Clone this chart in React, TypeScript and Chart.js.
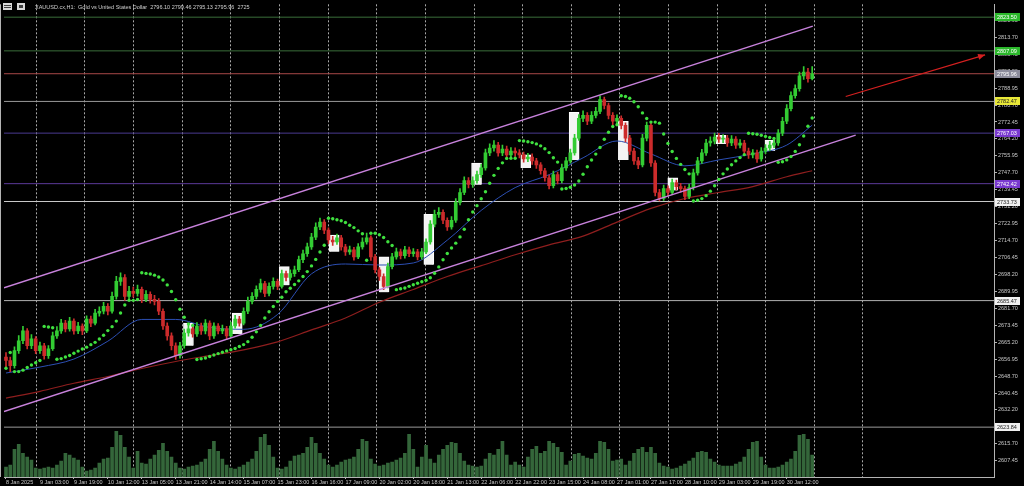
import React, { useEffect, useRef } from "react";
import { Chart, registerables } from "chart.js";

Chart.register(...registerables);

// ---------- data (H1 chart, one candle here = 2 hours) ----------
const HOURS_PER_CANDLE = 2;
const X_MIN = -0.94;
const X_MAX = 465.7;
const Y_MIN = 2599.56;
const Y_MAX = 2829.77;

const firstOpen = 2658.0;
const closes = [
  2656.3, 2653.8, 2661.1, 2665.9, 2670.7, 2663.5, 2666.8, 2661.1, 2663.5, 2658.7,
  2662.0, 2668.3, 2670.7, 2674.5, 2671.7, 2675.5, 2670.7, 2673.1, 2670.7, 2676.5,
  2674.5, 2679.4, 2680.3, 2682.7, 2680.3, 2687.5, 2694.8, 2696.7, 2687.5, 2690.0,
  2689.0, 2690.9, 2686.1, 2688.5, 2686.1, 2685.1, 2680.3, 2673.1, 2668.3, 2663.5,
  2658.7, 2663.5, 2669.7, 2671.7, 2669.3, 2673.1, 2670.7, 2674.5, 2668.3, 2673.1,
  2670.7, 2671.7, 2668.3, 2673.1, 2676.5, 2674.5, 2680.3, 2685.1, 2687.5, 2690.9,
  2693.8, 2689.0, 2692.4, 2694.8, 2692.4, 2698.6, 2696.7, 2698.6, 2700.5, 2705.4,
  2708.3, 2711.6, 2716.4, 2721.3, 2723.7, 2719.8, 2715.0, 2714.0, 2716.0, 2711.6,
  2709.2, 2710.2, 2706.8, 2711.6, 2714.0, 2716.0, 2706.8, 2700.5, 2697.2, 2692.4,
  2702.0, 2706.8, 2709.2, 2707.3, 2710.2, 2708.3, 2709.2, 2706.8, 2709.2, 2714.0,
  2722.7, 2727.5, 2728.5, 2724.6, 2721.3, 2724.6, 2733.3, 2738.1, 2743.9, 2742.0,
  2743.9, 2746.8, 2750.1, 2757.4, 2759.8, 2761.2, 2757.4, 2759.3, 2756.4, 2758.3,
  2757.4, 2756.4, 2754.5, 2755.4, 2753.5, 2751.6, 2748.7, 2745.3, 2741.5, 2746.8,
  2743.9, 2750.1, 2753.5, 2757.4, 2764.6, 2774.2, 2775.7, 2772.8, 2775.7, 2777.6,
  2783.4, 2780.5, 2775.7, 2772.8, 2774.2, 2770.8, 2764.6, 2758.3, 2753.5, 2751.6,
  2764.6, 2770.8, 2752.5, 2738.1, 2735.2, 2740.0, 2738.1, 2742.9, 2741.0, 2740.0,
  2736.2, 2740.5, 2747.7, 2753.5, 2757.4, 2762.2, 2763.1, 2765.1, 2764.1, 2764.6,
  2762.2, 2764.1, 2761.2, 2762.2, 2758.3, 2756.4, 2757.4, 2754.5, 2758.3, 2759.8,
  2761.2, 2762.2, 2767.0, 2772.8, 2779.0, 2785.3, 2788.7, 2794.9, 2796.8, 2793.5,
  2795.96,
];
const highs = [
  2660.2, 2658.0, 2663.0, 2668.4, 2672.9, 2671.8, 2668.9, 2667.9, 2665.3, 2664.6,
  2663.6, 2670.1, 2672.8, 2676.4, 2675.8, 2677.3, 2676.6, 2674.9, 2674.2, 2678.1,
  2677.9, 2681.2, 2682.4, 2684.6, 2684.0, 2689.6, 2697.3, 2699.0, 2698.1, 2692.4,
  2692.1, 2693.0, 2692.0, 2690.3, 2689.8, 2688.0, 2686.4, 2681.5, 2674.6, 2669.8,
  2664.9, 2665.2, 2671.6, 2673.4, 2673.0, 2674.8, 2674.5, 2676.2, 2675.6, 2674.7,
  2674.3, 2673.5, 2672.9, 2675.0, 2678.3, 2677.8, 2682.0, 2687.2, 2689.4, 2692.7,
  2695.9, 2694.9, 2694.1, 2696.5, 2696.0, 2700.3, 2699.9, 2700.4, 2702.3, 2707.2,
  2710.1, 2713.5, 2718.2, 2723.4, 2725.6, 2724.9, 2720.9, 2716.8, 2717.9, 2717.2,
  2712.9, 2712.0, 2711.4, 2713.2, 2716.0, 2718.3, 2717.0, 2708.0, 2701.6, 2698.5,
  2703.8, 2708.5, 2711.0, 2710.6, 2711.9, 2711.5, 2710.8, 2710.4, 2710.9, 2715.6,
  2724.5, 2729.6, 2730.8, 2729.7, 2725.8, 2726.4, 2735.1, 2740.0, 2745.8, 2745.4,
  2745.7, 2748.6, 2752.0, 2759.3, 2761.8, 2763.4, 2762.6, 2761.2, 2760.7, 2760.0,
  2759.9, 2759.0, 2757.8, 2757.2, 2756.9, 2754.8, 2752.7, 2749.9, 2746.6, 2748.5,
  2748.0, 2751.9, 2755.3, 2759.2, 2766.4, 2776.1, 2777.9, 2777.0, 2777.5, 2779.6,
  2785.2, 2784.6, 2781.7, 2777.0, 2776.0, 2775.5, 2772.0, 2765.9, 2759.6, 2755.3,
  2766.5, 2772.4, 2771.9, 2753.6, 2739.6, 2741.7, 2741.4, 2744.6, 2744.2, 2742.6,
  2741.2, 2742.2, 2749.5, 2755.3, 2759.1, 2764.0, 2765.2, 2767.0, 2766.9, 2766.3,
  2766.0, 2765.8, 2765.4, 2763.9, 2763.5, 2759.8, 2759.0, 2758.8, 2760.0, 2761.5,
  2763.0, 2764.0, 2768.8, 2774.7, 2780.9, 2787.2, 2790.6, 2796.8, 2799.4, 2798.6,
  2799.46,
];
const lows = [
  2652.5, 2650.9, 2652.6, 2659.8, 2664.5, 2661.9, 2662.0, 2659.6, 2659.8, 2656.9,
  2657.3, 2661.2, 2667.0, 2669.5, 2670.2, 2670.6, 2669.1, 2669.4, 2668.9, 2669.8,
  2672.8, 2673.6, 2677.9, 2679.0, 2678.5, 2679.4, 2686.2, 2692.9, 2685.6, 2686.0,
  2687.2, 2687.6, 2684.5, 2684.9, 2684.2, 2683.4, 2678.6, 2671.4, 2666.2, 2661.4,
  2656.8, 2657.4, 2662.3, 2668.1, 2667.6, 2668.0, 2669.0, 2669.3, 2666.4, 2667.0,
  2669.2, 2669.4, 2666.5, 2667.4, 2672.0, 2673.0, 2673.6, 2679.1, 2683.8, 2686.3,
  2689.6, 2687.4, 2687.8, 2691.0, 2690.8, 2691.5, 2695.0, 2695.4, 2697.2, 2699.6,
  2704.0, 2707.0, 2710.4, 2715.2, 2720.0, 2718.1, 2713.2, 2712.4, 2712.8, 2710.0,
  2707.5, 2707.9, 2705.1, 2705.9, 2710.5, 2712.9, 2705.0, 2698.9, 2695.3, 2690.8,
  2691.6, 2700.9, 2705.6, 2705.8, 2706.1, 2706.9, 2707.0, 2705.3, 2705.7, 2708.3,
  2713.0, 2721.4, 2726.0, 2722.9, 2719.6, 2720.2, 2723.5, 2732.1, 2737.0, 2740.3,
  2740.6, 2742.7, 2745.5, 2749.0, 2756.1, 2758.3, 2755.8, 2756.0, 2754.8, 2755.1,
  2755.7, 2754.9, 2752.9, 2753.1, 2751.8, 2749.9, 2747.0, 2743.6, 2739.8, 2740.4,
  2742.3, 2742.8, 2748.9, 2752.4, 2756.3, 2763.5, 2772.6, 2771.2, 2771.6, 2774.4,
  2776.5, 2778.8, 2774.0, 2771.1, 2771.4, 2769.1, 2762.8, 2756.5, 2751.8, 2749.7,
  2750.6, 2763.2, 2750.8, 2736.4, 2734.0, 2734.2, 2736.5, 2737.0, 2739.4, 2738.3,
  2734.6, 2735.1, 2739.4, 2746.6, 2752.3, 2756.2, 2760.7, 2761.8, 2762.5, 2762.4,
  2760.6, 2760.9, 2759.6, 2759.8, 2756.6, 2754.7, 2754.9, 2752.8, 2753.4, 2757.0,
  2758.5, 2759.9, 2761.1, 2765.8, 2771.6, 2777.9, 2784.0, 2787.5, 2793.2, 2791.8,
  2792.9,
];
const volumes = [
  5000, 6000, 14000, 16500, 12000, 10000, 8500, 4500, 4000, 4500,
  5000, 4500, 6000, 8000, 12000, 11000, 9500, 8500, 5000, 3000,
  3500, 4500, 7000, 9000, 9500, 15000, 23000, 21000, 15000, 10000,
  4500, 13000, 7000, 6500, 9000, 11000, 13500, 17000, 13000, 10000,
  7000, 4500, 4000, 5000, 5500, 6000, 7500, 9000, 14000, 18000,
  13000, 9000, 6000, 4500, 4000, 5000, 6000, 7500, 9000, 13000,
  20000, 21500, 16000, 10000, 4500, 4000, 5000, 8000, 10500, 11000,
  12000, 15000, 20000, 17000, 12000, 9000, 6000, 5000, 6000, 7500,
  8500, 9000, 10000, 14000, 19000, 18000, 9000, 6500, 5500, 6000,
  7000, 7500, 8500, 9500, 12000, 21500, 14000, 5000, 10000, 16000,
  9000, 7000, 11000, 14000, 16000, 17500, 17000, 12000, 8000, 6000,
  5500, 5000, 5500, 9000, 12000, 11000, 14000, 18000, 11000, 6000,
  7500, 6000, 5000, 10000, 14000, 15500, 12000, 13000, 18000, 17000,
  15000, 12500, 6000, 8000, 11500, 12000, 10500, 9500, 9000, 12000,
  18000, 17500, 14000, 8000, 8500, 9000, 6000, 8000, 12000, 14000,
  15000, 12500, 15000, 12000, 7000, 5500, 5000, 4000, 4500, 5500,
  6500, 8000, 9500, 12500, 13000, 12500, 9000, 7500, 6000, 5500,
  5500, 5500, 6500, 7500, 10000, 14000, 17500, 18000, 10000, 6000,
  4500, 4500, 5000, 6000, 7500, 9000, 13000, 21000, 21500, 19000,
  11000,
];
const VOL_AXIS_MAX = 238500;

const maHours = [0, 16, 32, 48, 64, 80, 96, 112, 128, 144, 160, 176, 192, 208, 224, 240, 256, 272, 288, 304, 320, 336, 352, 368, 380];
const maBlue = [2650.2, 2653.1, 2657.0, 2665.7, 2676.3, 2676.3, 2672.4, 2671.5, 2678.7, 2698.5, 2703.3, 2702.8, 2703.8, 2714.9, 2729.4, 2740.5, 2746.8, 2755.0, 2763.2, 2756.9, 2751.1, 2754.0, 2756.9, 2761.2, 2770.9];
const maRed = [2638.0, 2641.3, 2645.2, 2648.5, 2652.4, 2655.8, 2658.7, 2661.5, 2665.4, 2671.2, 2677.0, 2684.7, 2690.9, 2697.2, 2702.5, 2707.8, 2712.6, 2716.9, 2723.7, 2730.4, 2735.2, 2738.1, 2741.0, 2745.8, 2748.7];

const xLabelHours = [0, 16, 32, 48, 64, 80, 96, 112, 128, 144, 160, 176, 192, 208, 224, 240, 256, 272, 288, 304, 320, 336, 352, 368];
const xLabels = [
  "8 Jan 2025", "9 Jan 03:00", "9 Jan 19:00", "10 Jan 12:00", "13 Jan 05:00", "13 Jan 21:00",
  "14 Jan 14:00", "15 Jan 07:00", "15 Jan 23:00", "16 Jan 16:00", "17 Jan 09:00", "20 Jan 02:00",
  "20 Jan 18:00", "21 Jan 13:00", "22 Jan 06:00", "22 Jan 22:00", "23 Jan 15:00", "24 Jan 08:00",
  "27 Jan 01:00", "27 Jan 17:00", "28 Jan 10:00", "29 Jan 03:00", "29 Jan 19:00", "30 Jan 12:00",
];
const gridHours = [14.1, 37.0, 59.9, 82.9, 105.8, 128.7, 151.6, 174.5, 197.5, 220.4, 243.3, 266.2, 289.1, 312.1, 335.0, 357.9, 380.8, 403.7];
const priceTicks = [
  2607.45, 2615.7, 2623.95, 2632.2, 2640.45, 2648.7, 2656.95, 2665.2, 2673.45, 2681.7,
  2689.95, 2698.2, 2706.45, 2714.7, 2722.95, 2731.2, 2739.45, 2747.7, 2755.95, 2764.2,
  2772.45, 2780.7, 2788.95, 2797.2, 2805.45, 2813.7, 2821.95,
];

const levelPrices = [2823.5, 2807.09, 2795.96, 2782.47, 2767.03, 2742.42, 2733.73, 2685.47, 2623.84];
const levelLineColors = ["#3a6e3a", "#3a6e3a", "#a84848", "#9a9a9a", "#4a3a90", "#5c3a9a", "#c8c8c8", "#b0b0b0", "#9a9a9a"];
const levelBoxColors = ["#2bb82b", "#2bb82b", "#8c8c9c", "#e8e838", "#7a3ad0", "#7a3ad0", "#f0f0f0", "#f0f0f0", "#f0f0f0"];
const levelTextColors = ["#ffffff", "#ffffff", "#ffffff", "#202020", "#ffffff", "#ffffff", "#202020", "#202020", "#202020"];

const channelUpper = [{ x: -0.94, y: 2691.74 }, { x: 380.3, y: 2819.15 }];
const channelLower = [{ x: -0.94, y: 2631.41 }, { x: 400.5, y: 2766.07 }];
const arrowLine = [{ x: 395.8, y: 2784.89 }, { x: 461.5, y: 2805.16 }];

const boxHours = [86.0, 109.0, 131.2, 154.7, 178.2, 199.3, 221.8, 245.0, 267.8, 291.0, 314.3, 337.0, 360.1];
const boxTops = [2674.5, 2679.4, 2702.0, 2717.4, 2706.8, 2727.5, 2752.5, 2756.4, 2777.1, 2772.8, 2745.3, 2766.0, 2763.6];
const boxBottoms = [2663.5, 2669.2, 2692.9, 2709.2, 2689.5, 2702.9, 2741.9, 2750.1, 2754.0, 2754.0, 2739.1, 2761.7, 2758.3];

const headerText = "XAUUSD.cx,H1:  Gold vs United States Dollar  2796.10 2799.46 2795.13 2795.96  2725";

// Parabolic SAR (0.02 / 0.2) computed from the candle highs and lows
function parabolicSar(hi: number[], lo: number[], step = 0.02, maxStep = 0.2): number[] {
  const out: number[] = [];
  let up = true;
  let af = step;
  let ep = hi[0];
  let sar = lo[0];
  out.push(sar);
  for (let i = 1; i < hi.length; i++) {
    sar = sar + af * (ep - sar);
    if (up) {
      sar = Math.min(sar, lo[i - 1], i > 1 ? lo[i - 2] : lo[i - 1]);
      if (lo[i] < sar) {
        up = false; sar = ep; ep = lo[i]; af = step;
      } else if (hi[i] > ep) {
        ep = hi[i]; af = Math.min(af + step, maxStep);
      }
    } else {
      sar = Math.max(sar, hi[i - 1], i > 1 ? hi[i - 2] : hi[i - 1]);
      if (hi[i] > sar) {
        up = true; sar = ep; ep = hi[i]; af = step;
      } else if (lo[i] < ep) {
        ep = lo[i]; af = Math.min(af + step, maxStep);
      }
    }
    out.push(sar);
  }
  return out;
}

const FONT = "'Liberation Sans', Arial, sans-serif";
const BULL = "#33cc33";
const BEAR = "#cc2b2b";

export default function App() {
  const ref = useRef<HTMLCanvasElement | null>(null);

  useEffect(() => {
    document.body.style.margin = "0";
    document.body.style.background = "#000";
    const canvas = ref.current;
    if (!canvas) return;

    const hours = closes.map((_, i) => i * HOURS_PER_CANDLE);
    const opens = closes.map((_, i) => (i === 0 ? firstOpen : closes[i - 1]));
    const colors = closes.map((c, i) => (c >= opens[i] ? BULL : BEAR));
    const sar = parabolicSar(highs, lows);

    const levelSets = levelPrices.map((p, k) => ({
      type: "line" as const,
      data: [{ x: X_MIN, y: p }, { x: X_MAX, y: p }],
      borderColor: levelLineColors[k],
      borderWidth: 1,
      pointRadius: 0,
      order: 8,
    }));

    const datasets: any[] = [
      {
        type: "line",
        label: "sar",
        data: sar.map((v, i) => ({ x: hours[i], y: v })),
        showLine: false,
        pointRadius: 1.7,
        pointBackgroundColor: "#3fe03f",
        pointBorderWidth: 0,
        order: 1,
      },
      {
        type: "line",
        label: "arrow",
        data: arrowLine,
        borderColor: "#d42020",
        borderWidth: 1.2,
        pointRadius: 0,
        order: 0,
      },
      {
        type: "line",
        data: channelUpper,
        borderColor: "#c882dc",
        borderWidth: 1.5,
        pointRadius: 0,
        order: 2,
      },
      {
        type: "line",
        data: channelLower,
        borderColor: "#c882dc",
        borderWidth: 1.5,
        pointRadius: 0,
        order: 2,
      },
      {
        type: "bar",
        data: closes.map((c, i) => ({ x: hours[i], y: [Math.min(opens[i], c), Math.max(opens[i], c)] })),
        backgroundColor: colors,
        borderWidth: 0,
        barThickness: 3,
        minBarLength: 1,
        grouped: false,
        order: 3,
      },
      {
        type: "bar",
        data: closes.map((_, i) => ({ x: hours[i], y: [lows[i], highs[i]] })),
        backgroundColor: colors,
        borderWidth: 0,
        barThickness: 1,
        grouped: false,
        order: 4,
      },
      {
        type: "line",
        data: maHours.map((h, i) => ({ x: h, y: maBlue[i] })),
        borderColor: "#2c4fb4",
        borderWidth: 1,
        pointRadius: 0,
        cubicInterpolationMode: "monotone",
        order: 5,
      },
      {
        type: "line",
        data: maHours.map((h, i) => ({ x: h, y: maRed[i] })),
        borderColor: "#8e1e1e",
        borderWidth: 1.2,
        pointRadius: 0,
        cubicInterpolationMode: "monotone",
        order: 6,
      },
      {
        type: "bar",
        data: boxHours.map((h, i) => ({ x: h, y: [boxBottoms[i], boxTops[i]] })),
        backgroundColor: "#f4f4f4",
        borderColor: "#ffffff",
        borderWidth: 1,
        barThickness: 10,
        grouped: false,
        order: 7,
      },
      ...levelSets,
      {
        type: "bar",
        yAxisID: "yv",
        data: volumes.map((v, i) => ({ x: hours[i], y: v })),
        backgroundColor: "#34663a",
        borderWidth: 0,
        barThickness: 3,
        grouped: false,
        order: 9,
      },
    ];

    const overlay = {
      id: "mtOverlay",
      beforeDatasetsDraw(chart: any) {
        const { ctx, chartArea, scales } = chart;
        ctx.save();
        ctx.strokeStyle = "#a8a8a8";
        ctx.lineWidth = 1;
        ctx.setLineDash([2, 2]);
        for (const h of gridHours) {
          const x = Math.round(scales.x.getPixelForValue(h)) + 0.5;
          ctx.beginPath();
          ctx.moveTo(x, chartArea.top);
          ctx.lineTo(x, chartArea.bottom);
          ctx.stroke();
        }
        ctx.restore();
      },
      afterDatasetsDraw(chart: any) {
        const { ctx } = chart;
        const meta = chart.getDatasetMeta(1);
        const p0 = meta.data[0];
        const p1 = meta.data[1];
        if (!p0 || !p1) return;
        const a = Math.atan2(p1.y - p0.y, p1.x - p0.x);
        const len = 7;
        const w = 3;
        ctx.save();
        ctx.fillStyle = "#d42020";
        ctx.beginPath();
        ctx.moveTo(p1.x, p1.y);
        ctx.lineTo(p1.x - len * Math.cos(a) + w * Math.sin(a), p1.y - len * Math.sin(a) - w * Math.cos(a));
        ctx.lineTo(p1.x - len * Math.cos(a) - w * Math.sin(a), p1.y - len * Math.sin(a) + w * Math.cos(a));
        ctx.closePath();
        ctx.fill();
        ctx.restore();
      },
      afterDraw(chart: any) {
        const { ctx, chartArea, scales } = chart;
        ctx.save();
        ctx.strokeStyle = "#b4b4b4";
        ctx.lineWidth = 1;
        ctx.beginPath();
        ctx.moveTo(0.5, chartArea.top);
        ctx.lineTo(0.5, chartArea.bottom);
        ctx.stroke();
        ctx.font = `5.5px ${FONT}`;
        ctx.textBaseline = "middle";
        ctx.textAlign = "left";
        levelPrices.forEach((p, k) => {
          const y = Math.round(scales.y.getPixelForValue(p));
          ctx.fillStyle = levelBoxColors[k];
          ctx.fillRect(chartArea.right + 1, y - 4, 25, 8);
          ctx.fillStyle = levelTextColors[k];
          ctx.fillText(p.toFixed(2), chartArea.right + 3, y + 0.5);
        });
        ctx.fillStyle = "#d8d8d8";
        ctx.fillRect(3, 3, 9, 7);
        ctx.fillStyle = "#404040";
        ctx.fillRect(4, 5, 7, 1);
        ctx.fillRect(4, 7, 7, 1);
        ctx.fillStyle = "#d8d8d8";
        ctx.fillRect(17, 3, 8, 7);
        ctx.fillStyle = "#404040";
        ctx.fillRect(19, 5, 4, 3);
        ctx.fillStyle = "#d0d0d0";
        ctx.fillText(headerText, 35, 7);
        ctx.restore();
      },
    };

    const chart = new Chart(canvas, {
      type: "bar",
      data: { datasets },
      options: {
        animation: false,
        responsive: false,
        maintainAspectRatio: false,
        layout: { padding: 0 },
        plugins: { legend: { display: false }, tooltip: { enabled: false } },
        scales: {
          x: {
            type: "linear",
            min: X_MIN,
            max: X_MAX,
            offset: false,
            afterBuildTicks: (s: any) => {
              s.ticks = xLabelHours.map((v) => ({ value: v }));
            },
            afterFit: (s: any) => {
              s.height = 9;
            },
            grid: { drawOnChartArea: false, drawTicks: true, tickLength: 2, color: "#b4b4b4", offset: false },
            border: { display: true, color: "#b4b4b4" },
            ticks: {
              autoSkip: false,
              maxRotation: 0,
              minRotation: 0,
              align: "start",
              padding: 0,
              color: "#c8c8c8",
              font: { family: FONT, size: 5.5 },
              callback: (_v: any, i: number) => xLabels[i] ?? "",
            },
          },
          y: {
            type: "linear",
            position: "right",
            min: Y_MIN,
            max: Y_MAX,
            afterBuildTicks: (s: any) => {
              s.ticks = priceTicks.map((v) => ({ value: v }));
            },
            afterFit: (s: any) => {
              s.width = 30;
            },
            grid: { drawOnChartArea: false, drawTicks: true, tickLength: 3, color: "#b4b4b4" },
            border: { display: true, color: "#b4b4b4" },
            ticks: {
              autoSkip: false,
              padding: 1,
              color: "#c8c8c8",
              font: { family: FONT, size: 5.5 },
              callback: (v: any) => Number(v).toFixed(2),
            },
          },
          yv: {
            type: "linear",
            display: false,
            min: 0,
            max: VOL_AXIS_MAX,
          },
        },
      } as any,
      plugins: [overlay],
    });

    return () => chart.destroy();
  }, []);

  return (
    <div style={{ width: 1024, height: 486, background: "#000" }}>
      <canvas ref={ref} width={1024} height={486} style={{ display: "block" }} />
    </div>
  );
}
